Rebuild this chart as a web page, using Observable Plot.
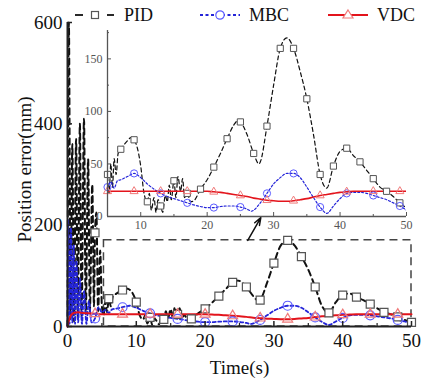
<!DOCTYPE html>
<html><head><meta charset="utf-8">
<script src="https://cdn.jsdelivr.net/npm/d3@7"></script>
<script src="https://cdn.jsdelivr.net/npm/@observablehq/plot@0.6"></script>
<style>
html,body{margin:0;padding:0;background:#fff;}
#wrap{position:relative;width:431px;height:380px;font-family:"Liberation Serif","Times New Roman",serif;overflow:hidden;}
#main,#inset,#legend{position:absolute;left:0;top:0;}
#inset{left:72px;top:22px;}
.leg{position:absolute;top:3px;height:24px;display:flex;align-items:center;font-size:18px;color:#111;}
.leg svg{display:block;}
</style></head><body>
<div id="wrap"><div id="main"></div><div id="inset"></div><div id="legend"></div></div>
<script>
// ---------- data ----------
const seriesNames = ["PID", "MBC", "VDC"];

const pidT = [0,0.2,0.45,0.7,0.95,1.25,1.5,1.8,2.05,2.4,2.65,3,3.25,3.6,3.85,4,4.2,4.45,4.75,5,5.25,5.5,5.75,6,6.3,6.6,7,8,8.5,9,10,10.5,11,11.3,11.6,12,12.3,12.6,13,13.3,13.7,14,14.3,14.6,15,15.3,15.6,16,16.3,16.6,17,17.5,18,19,20,21,22,23,24,24.6,25,26,27,27.8,28,29,30,31,32,33,34,35,36,37,38,39,40,41,42,43,44,45,46,47,48,49,50];
const pidV = [0,600,15,360,10,370,15,400,20,410,25,330,30,280,40,185,225,30,150,40,22,50,28,55,40,60,64,72,75,73,48,22,14,22,6,18,4,16,10,4,20,14,30,16,34,18,38,24,36,18,22,14,15,26,35,47,60,74,87,91,90,78,60,50,52,86,125,160,170,160,138,112,78,40,27,48,62,65,58,52,44,36,28,24,19,13,8];

const mbcT = [0,0.1,0.3,0.5,0.7,0.9,1.1,1.3,1.55,1.8,2.1,2.4,2.75,3.1,3.5,4,4.5,5,5.5,6,6.5,7,8,9,10,11,12,13,14,15,16,17,18,19,20,21,22,23,24,25,26,26.7,27,28,29,30,31,32,33,34,35,36,37,38,39,40,41,42,43,44,45,46,47,48,49,50];
const mbcV = [0,210,5,195,8,160,5,130,8,95,5,70,5,50,8,16,38,28,33,27,34,35,38,41,37,31,26,22,19,17,15,13,11,9.5,8.5,8.5,9.5,10,10,9,7,5,6,13,22,31,37,41,41,37,28,18,9,3,10,17,22,23,23,22,20,18,16,13,10,6];

const vdcT = [0,0.2,0.5,1,1.5,2,3,4,5,6,7,8,9,10,11,12,13,14,15,16,17,18,19,20,21,22,23,24,25,26,27,28,29,30,31,32,33,34,35,36,37,38,39,40,41,42,43,44,45,46,47,48,49,50];
const vdcV = [0,12,22,27,28,27,26,25,24,24,24,24,24,24,24,24,24,24,24,24,24,24,24,24,23.5,23,22,21,20,19,17.5,16.5,15.5,15,14.5,14.5,15,16,17,18.5,20,21,22,23,23.5,24,24,24,24,24,24,24,24,24];

// marker times
const mainPidMarks = [4,6,8,10,12,14,16,18,20,22,24,26,28,30,32,34,36,38,40,42,44,46,48,50];
const mainOtherMarks = [4,8,12,16,20,24,28,32,36,40,44,48];
const insetPidMarks = [5,7,9,11,13,15,17,19,21,23,25,27,29,31,33,35,37,39,41,43,45,47,49];
const insetOtherMarks = [5,9,13,17,21,25,29,33,37,41,45,49];

// axes ticks
const mainXTicks = [0,10,20,30,40,50];
const mainXMinor = [5,15,25,35,45];
const mainYTicks = [0,200,400,600];
const insetXTicks = [10,20,30,40,50];
const insetXMinor = [15,25,35,45];
const insetYTicks = [0,50,100,150];
const insetYMinor = [25,75,125,175];

// zoom box and arrow (data coordinates of the main chart)
const zoomBox = [{x1: 5.3, x2: 50, y1: 0, y2: 170}];
const zoomArrow = [{x1: 26.2, y1: 170, x2: 28.1, y2: 215}];

const axisLabels = {x: "Time(s)", y: "Position error(mm)"};

// ---------- tables ----------
const pid = pidT.map((t, i) => ({t, v: pidV[i]}));
const mbc = mbcT.map((t, i) => ({t, v: mbcV[i]}));
const vdc = vdcT.map((t, i) => ({t, v: vdcV[i]}));
const pick = (rows, ts) => rows.filter(d => ts.includes(d.t));

const C = {pid: "#111", pidMark: "#555", mbc: "#2424d8", mbcMark: "#5b5bff", vdc: "#e3141c", vdcMark: "#f07a7a"};
const serif = "Liberation Serif, Times New Roman, serif";

// ---------- main chart ----------
const main = Plot.plot({
  width: 431, height: 380,
  marginLeft: 67, marginRight: 20, marginTop: 22, marginBottom: 54,
  x: {domain: [0, 50]},
  y: {domain: [0, 600]},
  style: {fontFamily: serif, fontSize: "18px", color: "#111", background: "transparent", overflow: "visible"},
  marks: [
    Plot.rect(zoomBox, {x1: "x1", x2: "x2", y1: "y1", y2: "y2", fill: "none", stroke: "#444", strokeWidth: 1.5, strokeDasharray: "8,5"}),
    Plot.line(pid, {x: "t", y: "v", stroke: C.pid, strokeWidth: 2, strokeDasharray: "6,4", curve: "monotone-x"}),
    Plot.line(mbc, {x: "t", y: "v", stroke: C.mbc, strokeWidth: 1.8, strokeDasharray: "3,2.5", curve: "monotone-x"}),
    Plot.line(vdc, {x: "t", y: "v", stroke: C.vdc, strokeWidth: 2, curve: "monotone-x"}),
    Plot.dot(pick(pid, mainPidMarks), {x: "t", y: "v", symbol: "square", r: 4.5, stroke: C.pidMark, fill: "white", strokeWidth: 1.2}),
    Plot.dot(pick(mbc, mainOtherMarks), {x: "t", y: "v", symbol: "circle", r: 4.5, stroke: C.mbcMark, fill: "none", strokeWidth: 1.2}),
    Plot.dot(pick(vdc, mainOtherMarks), {x: "t", y: "v", symbol: "triangle", r: 3.7, stroke: C.vdcMark, fill: "none", strokeWidth: 1.2}),
    Plot.arrow(zoomArrow, {x1: "x1", y1: "y1", x2: "x2", y2: "y2", stroke: "#111", strokeWidth: 1.5, headLength: 8, headAngle: 40}),
    Plot.ruleX([0], {stroke: "#222", strokeWidth: 2}),
    Plot.ruleY([0], {stroke: "#222", strokeWidth: 2}),
    Plot.axisY(mainYTicks, {tickSize: -5, fill: "none", stroke: "#222", strokeWidth: 1.5, label: null}),
    Plot.axisY(mainYTicks, {tickSize: 0, tickPadding: 5, label: null, fontSize: 19}),
    Plot.axisX(mainXTicks, {tickSize: -5, fill: "none", stroke: "#222", strokeWidth: 1.5, label: null}),
    Plot.axisX(mainXMinor, {tickSize: -3, fill: "none", stroke: "#222", strokeWidth: 1.2, label: null}),
    Plot.axisX(mainXTicks, {tickSize: 0, tickPadding: 7, label: null, fontSize: 19}),
    Plot.text([axisLabels.x], {frameAnchor: "bottom", textAnchor: "middle", lineAnchor: "middle", dy: 41, fontSize: 19, fill: "#111"}),
    Plot.text([axisLabels.y], {frameAnchor: "left", textAnchor: "middle", lineAnchor: "middle", rotate: -90, dx: -43, dy: -5, fontSize: 19, fill: "#111"})
  ]
});
document.getElementById("main").appendChild(main);

// ---------- inset ----------
const inset = Plot.plot({
  width: 345, height: 215,
  marginLeft: 35, marginRight: 11, marginTop: 8, marginBottom: 21,
  x: {domain: [5, 50]},
  y: {domain: [0, 177]},
  style: {fontFamily: serif, fontSize: "12px", color: "#555", background: "transparent", overflow: "visible"},
  marks: [
    Plot.line(pid, {x: "t", y: "v", stroke: C.pid, strokeWidth: 1.2, strokeDasharray: "4,3", curve: "monotone-x", clip: true}),
    Plot.line(mbc, {x: "t", y: "v", stroke: C.mbc, strokeWidth: 1.2, strokeDasharray: "2,2", curve: "monotone-x", clip: true}),
    Plot.line(vdc, {x: "t", y: "v", stroke: C.vdc, strokeWidth: 1.6, curve: "monotone-x", clip: true}),
    Plot.dot(pick(pid, insetPidMarks), {x: "t", y: "v", symbol: "square", r: 3.5, stroke: C.pidMark, fill: "white", strokeWidth: 1}),
    Plot.dot(pick(mbc, insetOtherMarks), {x: "t", y: "v", symbol: "circle", r: 3.6, stroke: C.mbcMark, fill: "none", strokeWidth: 1}),
    Plot.dot(pick(vdc, insetOtherMarks), {x: "t", y: "v", symbol: "triangle", r: 3, stroke: C.vdcMark, fill: "none", strokeWidth: 1}),
    Plot.ruleX([5], {stroke: "#555", strokeWidth: 1.3}),
    Plot.ruleY([0], {stroke: "#555", strokeWidth: 1.3}),
    Plot.axisY(insetYTicks, {tickSize: -4, fill: "none", stroke: "#555", label: null}),
    Plot.axisY(insetYMinor, {tickSize: -2, fill: "none", stroke: "#555", label: null}),
    Plot.text(insetYTicks, {y: d => d, text: d => String(d), frameAnchor: "left", textAnchor: "end", lineAnchor: "middle", dx: -5, fill: "#555", fontSize: 12}),
    Plot.axisX(insetXTicks, {tickSize: -4, fill: "none", stroke: "#555", label: null}),
    Plot.axisX(insetXMinor, {tickSize: -2, fill: "none", stroke: "#555", label: null}),
    Plot.axisX(insetXTicks, {tickSize: 0, tickPadding: 4, label: null, fill: "#555"})
  ]
});
document.getElementById("inset").appendChild(inset);

// ---------- legend ----------
const legendLeft = [75, 200, 328];
const legendSwatch = [
  `<line x1="0" y1="7" x2="8" y2="7" stroke="${C.pid}" stroke-width="1.8"/><line x1="32" y1="7" x2="39" y2="7" stroke="${C.pid}" stroke-width="1.8"/><rect x="16.5" y="3.5" width="7" height="7" fill="white" stroke="${C.pidMark}" stroke-width="1.2"/>`,
  `<line x1="0" y1="7" x2="40" y2="7" stroke="${C.mbc}" stroke-width="1.8" stroke-dasharray="3,2.5"/><circle cx="20" cy="7" r="4.2" fill="white" stroke="${C.mbcMark}" stroke-width="1.2"/>`,
  `<line x1="0" y1="7" x2="40" y2="7" stroke="${C.vdc}" stroke-width="2"/><path d="M20,2 L25,10 L15,10 Z" fill="white" stroke="${C.vdcMark}" stroke-width="1.2"/>`
];
const leg = document.getElementById("legend");
seriesNames.forEach((name, i) => {
  const d = document.createElement("div");
  d.className = "leg";
  d.style.left = legendLeft[i] + "px";
  d.innerHTML = `<svg width="40" height="14">${legendSwatch[i]}</svg><span style="margin-left:9px">${name}</span>`;
  leg.appendChild(d);
});
</script>
</body></html>
